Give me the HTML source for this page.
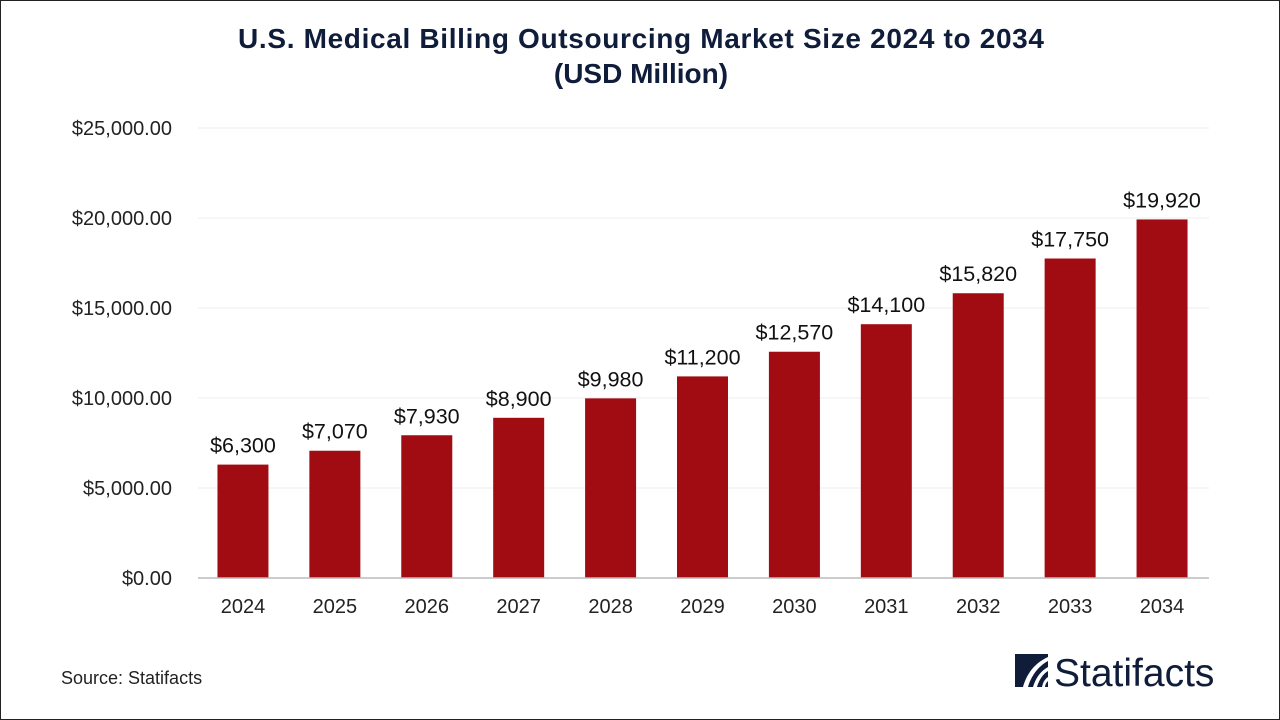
<!DOCTYPE html>
<html><head><meta charset="utf-8"><style>
html,body{margin:0;padding:0;background:#fff}
#wrap{position:relative;width:1278px;height:718px;border:1px solid #222;overflow:hidden;font-family:"Liberation Sans",sans-serif}
svg text{font-family:"Liberation Sans",sans-serif}
</style></head><body>
<div id="wrap">
<svg id="chart" width="1278" height="718">
<text x="640" y="47" text-anchor="middle" font-size="28" font-weight="bold" fill="#0f1c3a" textLength="806">U.S. Medical Billing Outsourcing Market Size 2024 to 2034</text>
<text x="640" y="82" text-anchor="middle" font-size="28" font-weight="bold" fill="#0f1c3a">(USD Million)</text>
<g id="grid"></g><g id="bars"></g><g id="labels"></g>
<text x="60" y="683" font-size="18" fill="#222">Source: Statifacts</text>
<g>
<rect x="1014" y="653" width="33" height="33" fill="#0f1c3a"/>
<path d="M1022 686 C1026 672 1034 662 1047 656 L1047 660 C1036 666 1030 676 1027 686Z M1032 686 C1035 676 1040 670 1047 666 L1047 670 C1042 673 1038 679 1036 686Z M1041 686 C1042 681 1044 678 1047 676 L1047 680 C1045 682 1044 684 1044 686Z" fill="#fff"/>
<text x="1053" y="685" font-size="39" fill="#0f1c3a">Statifacts</text>
</g>
</svg>
</div>
<script>
const categories=["2024","2025","2026","2027","2028","2029","2030","2031","2032","2033","2034"];
const values=[6300,7070,7930,8900,9980,11200,12570,14100,15820,17750,19920];
const valueLabels=["$6,300","$7,070","$7,930","$8,900","$9,980","$11,200","$12,570","$14,100","$15,820","$17,750","$19,920"];
const ticks=[0,5000,10000,15000,20000,25000];
const tickLabels=["$0.00","$5,000.00","$10,000.00","$15,000.00","$20,000.00","$25,000.00"];
const NS="http://www.w3.org/2000/svg";
const x0=197,x1=1208,y0=577,yTop=127,maxV=25000;
const band=(x1-x0)/categories.length,bw=51;
const y=v=>y0-(v/maxV)*(y0-yTop);
const xc=i=>x0+band*(i+0.5)-1;
function mk(tag,attrs,parent){const e=document.createElementNS(NS,tag);for(const k in attrs)e.setAttribute(k,attrs[k]);parent.appendChild(e);return e;}
const grid=document.getElementById('grid'),bars=document.getElementById('bars'),labels=document.getElementById('labels');
ticks.forEach((t,i)=>{
 if(t>0){const l=mk('line',{x1:x0,x2:x1,y1:y(t),y2:y(t),stroke:'#ececec','stroke-width':1},grid);
 
 }
 const tx=mk('text',{x:171,y:y(t)+7,'text-anchor':'end','font-size':20,fill:'#222'},grid);
 tx.textContent=tickLabels[i];
 
 
});
categories.forEach((c,i)=>{
 const r=mk('rect',{x:xc(i)-bw/2,y:y(values[i]),width:bw,height:y0-y(values[i]),fill:'#a00c12'},bars);
 
 
 const v=mk('text',{x:xc(i),y:y(values[i])-12,'text-anchor':'middle','font-size':21.5,fill:'#111'},labels);
 v.textContent=valueLabels[i];
 
 
 const xt=mk('text',{x:xc(i),y:612,'text-anchor':'middle','font-size':20,fill:'#222'},labels);
 xt.textContent=c;
 
 
});
const ax=mk('line',{x1:x0,x2:x1,y1:y0,y2:y0,stroke:'#bbb','stroke-width':1.5},labels);


</script>
</body></html>
